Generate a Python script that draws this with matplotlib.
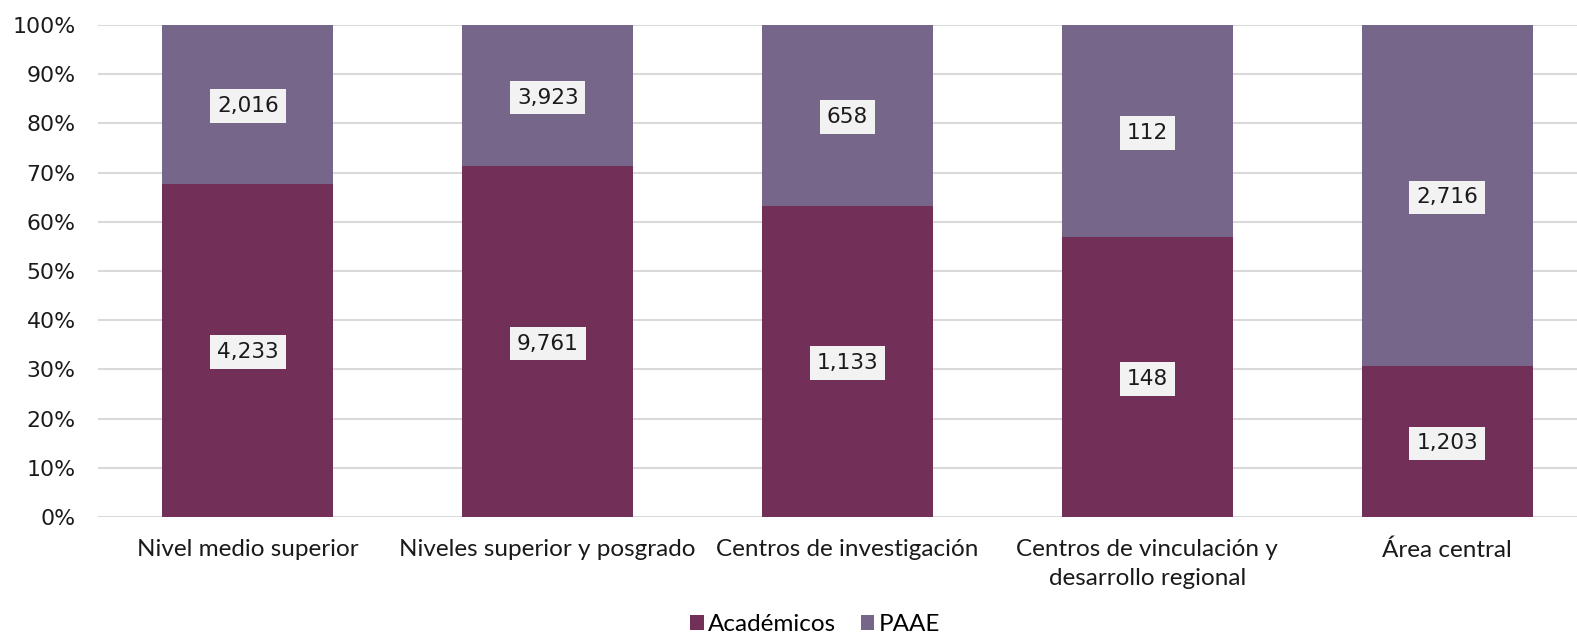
import matplotlib.pyplot as plt
from matplotlib.ticker import PercentFormatter

categorias = ['Nivel medio superior', 'Niveles superior y posgrado', 'Centros de investigación',
              'Centros de vinculación y\ndesarrollo regional', 'Área central']
academicos = [4233, 9761, 1133, 148, 1203]
paae = [2016, 3923, 658, 112, 2716]

col_acad = '#722F57'
col_paae = '#75668A'

totales = [a + p for a, p in zip(academicos, paae)]
pct_acad = [a / t * 100 for a, t in zip(academicos, totales)]
pct_paae = [p / t * 100 for p, t in zip(paae, totales)]

fig = plt.figure(figsize=(15.77, 6.35), dpi=100)
ax = fig.add_axes([98 / 1577, 1 - 517 / 635, 1 - 98 / 1577, 492 / 635])

x = list(range(len(categorias)))
ax.bar(x, pct_acad, width=0.57, color=col_acad, label='Académicos', zorder=2)
ax.bar(x, pct_paae, width=0.57, bottom=pct_acad, color=col_paae, label='PAAE', zorder=2)

box = dict(boxstyle='square,pad=0.32', facecolor='#F2F2F2', edgecolor='none')
for i in x:
    ax.text(i, pct_acad[i] / 2, f'{academicos[i]:,}', ha='center', va='center_baseline',
            fontsize=15.6, color='#1a1a1a', bbox=box, zorder=3)
    ax.text(i, pct_acad[i] + pct_paae[i] / 2, f'{paae[i]:,}', ha='center', va='center_baseline',
            fontsize=15.6, color='#1a1a1a', bbox=box, zorder=3)

ax.set_ylim(0, 100)
ax.set_xlim(-0.5, 4.433)
ax.set_yticks(range(0, 101, 10))
ax.yaxis.set_major_formatter(PercentFormatter(decimals=0))
ax.grid(axis='y', color='#D9D9D9', linewidth=1.5, zorder=0)
ax.set_axisbelow(True)
for s in ax.spines.values():
    s.set_visible(False)
ax.tick_params(axis='both', length=0, labelsize=15.8, colors='#1a1a1a')
ax.tick_params(axis='y', pad=16)
ax.set_xticks(x)
ax.set_xticklabels(categorias, fontfamily='Lato', fontsize=17.5, linespacing=1.45)
ax.tick_params(axis='x', pad=16)

leg = fig.legend(loc='lower center', bbox_to_anchor=(0.517, -0.035), ncol=2, frameon=False,
                 prop={'family': 'Lato', 'size': 17.5}, handlelength=0.55, handleheight=0.55,
                 handletextpad=0.2, columnspacing=1.0)

fig.savefig('out.png', dpi=100)
